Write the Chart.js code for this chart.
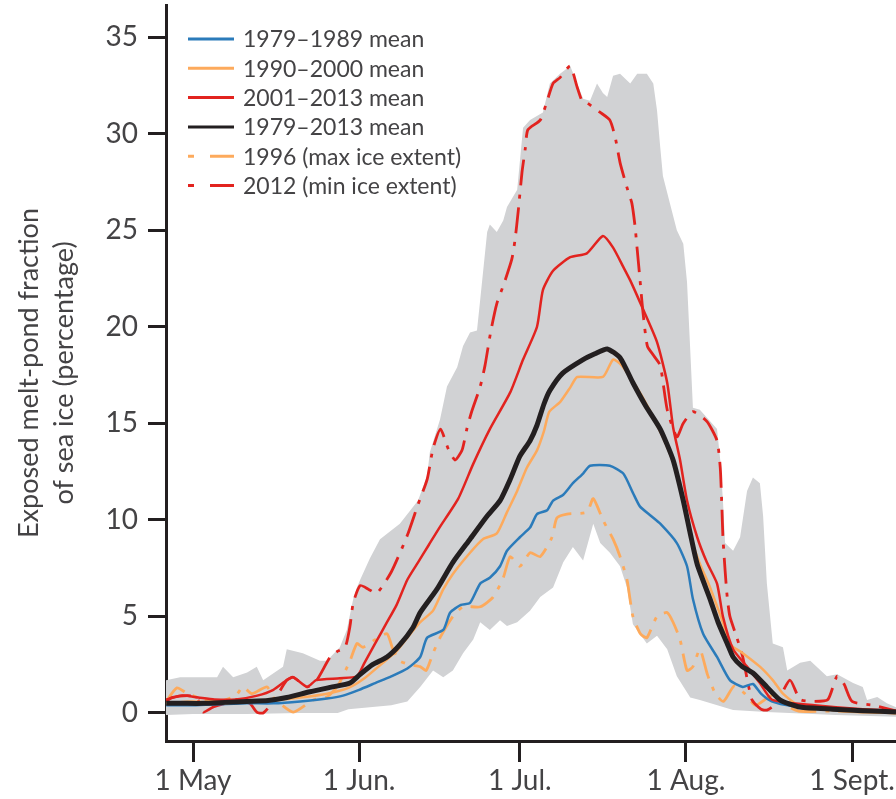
<!DOCTYPE html>
<html>
<head>
<meta charset="utf-8">
<title>Exposed melt-pond fraction of sea ice</title>
<script src="https://cdn.jsdelivr.net/npm/chart.js@4.4.1/dist/chart.umd.min.js"></script>
<style>
  html, body { margin: 0; padding: 0; background: #fff; }
  #wrap { width: 896px; height: 799px; }
</style>
</head>
<body>
<div id="wrap"><canvas id="pond-chart"></canvas></div>
<script>
// x values are days counted from 1 May
const monthTicks = [0, 31, 61, 92, 123];
const monthLabels = ['1 May', '1 Jun.', '1 Jul.', '1 Aug.', '1 Sept.'];
const pctTicks = [0, 5, 10, 15, 20, 25, 30, 35];

const legendLabels = ['1979–1989 mean', '1990–2000 mean', '2001–2013 mean',
                      '1979–2013 mean', '1996 (max ice extent)', '2012 (min ice extent)'];

// [day, percent]
const mean7989 = [[-5,0.4],[0,0.4],[5,0.45],[10,0.5],[15,0.5],[20,0.6],[25,0.75],[28,0.9],[31,1.2],[34,1.55],[37,1.9],[40,2.3],[42.4,2.9],[43.7,3.9],[46.7,4.3],[48,5.2],[50,5.6],[51.7,5.7],[53.6,6.7],[55.4,7.0],[57.3,7.6],[58.6,8.4],[61,9.1],[62.9,9.6],[64.2,10.3],[66.1,10.5],[67.2,11.0],[69.1,11.3],[70.9,11.9],[72.8,12.4],[74.1,12.8],[77.8,12.8],[80.3,12.4],[82.1,11.4],[83.4,10.7],[85.5,10.2],[87.2,9.8],[90.3,8.8],[92.2,7.6],[93.3,5.9],[95.2,4.1],[97.8,2.9],[100.2,1.7],[102.6,1.35],[104.5,1.5],[106,1.0],[108,0.6],[112,0.35],[118,0.2],[125,0.1],[131.2,0.05]];

const mean9000 = [[-5,0.5],[0,0.6],[5,0.5],[10,0.6],[15,0.65],[20,0.8],[25,1.0],[29,1.3],[32,1.8],[35,2.5],[38,3.2],[40,3.9],[42.4,4.7],[44.8,5.3],[46.7,6.4],[48.5,7.2],[51.7,8.3],[54.1,9.0],[56.7,9.3],[58.6,10.4],[60.5,11.5],[62.3,12.7],[64.2,13.6],[65.5,14.6],[66.5,15.6],[68.5,16.1],[70.5,16.9],[71.7,17.4],[76.5,17.4],[78.4,18.3],[80,18.0],[82.5,17.0],[85,15.8],[87.5,14.4],[89.6,13.0],[91.5,11.0],[93,9.0],[94.5,7.8],[96.5,6.5],[98.5,5.0],[100.5,3.5],[102.6,3.1],[105.8,2.4],[108.2,1.7],[110.1,1.0],[113,0.4],[118,0.2],[124,0.05],[131.2,0.0]];

const mean0113 = [[-5,0.7],[-2,0.9],[1,0.8],[4,0.7],[8,0.7],[12,0.9],[15,1.2],[17.5,1.7],[18.7,1.85],[21.3,1.35],[23,1.7],[27.4,1.8],[30.6,1.9],[32,2.6],[34,3.6],[36,4.6],[38,5.6],[40,6.9],[42,7.8],[44,8.7],[46,9.6],[49.5,11.1],[52.3,12.9],[55.4,14.7],[59.2,16.6],[61.6,18.3],[64.2,20.0],[65.3,21.9],[67.2,22.9],[70.4,23.6],[73.5,23.8],[76.5,24.7],[78.4,24.1],[80.3,23.1],[81.6,22.4],[84,20.9],[86.6,19.2],[88.5,17.1],[89.6,14.8],[90.9,13.1],[92.2,11.0],[94.1,9.1],[95.9,7.8],[97.8,6.7],[98.9,5.0],[100.8,3.3],[103.4,2.4],[105.8,1.55],[108,0.7],[112,0.5],[116,0.4],[120,0.3],[125,0.2],[131.2,0.1]];

const mean7913 = [[-5,0.5],[-2,0.5],[2,0.5],[6,0.55],[10,0.6],[14,0.65],[17.5,0.8],[21.8,1.1],[26,1.35],[29.3,1.55],[31.2,2.0],[33.5,2.5],[36.2,2.9],[38.5,3.5],[41,4.4],[42.4,5.2],[45.5,6.4],[48.5,7.8],[51.7,9.0],[54.9,10.2],[57.3,11.0],[59.2,12.1],[61,13.3],[62.9,14.1],[64.2,14.9],[65.5,16.0],[66.6,16.7],[69,17.6],[72.8,18.3],[75,18.6],[77.3,18.85],[79.7,18.4],[82.1,17.1],[84.5,15.9],[87.2,14.7],[89.6,13.1],[91.5,11.0],[92.8,9.3],[94.1,7.7],[96.5,5.9],[98,4.7],[99.7,3.6],[100.8,2.9],[102.5,2.4],[104.5,2.07],[107.1,1.35],[109.6,0.67],[113.3,0.31],[119.4,0.2],[125,0.12],[131.2,0.05]];

const year1996 = [[-5,0.6],[-3,1.3],[-1,1.0],[2,0.7],[5,0.6],[8,0.9],[9.3,1.35],[11,1.0],[13.8,1.35],[15,0.8],[18.7,0.05],[22.4,0.67],[25,0.83],[27,1.4],[29.3,2.7],[30.6,3.6],[31.7,3.4],[34,3.8],[36.2,4.1],[37.3,3.3],[38.6,2.7],[40.5,2.5],[42.4,2.4],[43.5,2.2],[44.8,3.1],[46.1,3.9],[48.5,5.0],[50.4,5.5],[53.6,5.5],[56,6.0],[57.9,7.0],[59.2,8.1],[61,7.6],[62.9,8.3],[64.8,8.1],[67,9.1],[67.9,10.1],[69.8,10.3],[73.5,10.4],[74.7,11.1],[76.5,10.0],[78.4,9.0],[79.7,8.1],[81,6.9],[82.1,5.0],[83.5,4.1],[84.7,3.9],[86.6,5.0],[88.5,5.2],[89.6,4.7],[90.9,3.8],[92.2,2.2],[93.3,2.4],[94.6,3.3],[96,2.0],[97.5,1.0],[99,0.6],[101,1.4],[103,1.0],[105,0.4],[108,0.9],[110,0.5],[113,0.1],[120,0.1],[131.2,0.0]];

const year2012 = [[-5,0.6],[-4,0.8],[-1,0.9],[0.7,0.8],[1.9,0.05],[3.7,0.3],[6,0.5],[8,0.7],[10.6,0.5],[11.9,0.05],[13.1,0.0],[15,0.6],[17.5,1.7],[18.7,1.85],[21.3,1.35],[23.1,1.7],[25.6,2.9],[27,3.2],[28.4,3.4],[29.3,4.5],[29.9,5.7],[31.2,6.6],[32.8,6.4],[34.3,6.2],[37,7.3],[40,9.2],[42,10.8],[43.7,12.1],[44.8,13.7],[46.2,14.7],[47.6,13.7],[48.9,13.1],[50.2,13.6],[51.1,14.7],[52,15.6],[53.6,16.9],[54.5,18.0],[55.6,19.8],[56.7,21.2],[58,22.2],[59.5,23.5],[60.1,24.5],[60.7,26.0],[61.4,28.0],[62,29.2],[62.5,30.2],[64.8,30.7],[66.1,31.7],[67.2,32.6],[68.5,32.9],[70.4,33.5],[71.7,32.4],[72.6,31.7],[73.5,31.6],[76,31.1],[77.8,30.7],[78.8,29.8],[79.7,28.5],[81,27.2],[81.9,26.4],[82.5,25.2],[82.9,24.0],[83.4,22.5],[84,20.7],[84.8,19.0],[86,18.5],[87.2,18.0],[88.5,15.7],[90.3,14.3],[91.5,15.0],[93.3,15.6],[95.9,15.1],[97.8,14.1],[98.4,12.7],[98.7,10.7],[98.9,9.1],[99.3,7.4],[99.7,6.0],[100.2,5.0],[101.5,3.9],[102.6,2.9],[104.3,0.7],[106,0.2],[107.1,0.15],[108.9,0.5],[111.4,1.7],[113.3,0.7],[116,0.6],[118.5,0.7],[120.2,1.9],[121.5,1.5],[123,0.6],[127,0.4],[131.2,0.1]];

// grey envelope
const rangeHigh = [[-5.04,1.7],[-2.4,1.85],[0,1.85],[4.5,1.85],[5.6,2.4],[7.5,1.85],[10.1,2.1],[11.9,2.4],[13.1,1.7],[16.8,2.4],[17.5,3.3],[20.5,3.1],[23.7,2.7],[25,2.7],[27.4,3.4],[28.7,4.3],[29.9,5.9],[30.6,6.5],[31.2,6.9],[33,8.0],[34.9,9.0],[38.6,9.8],[42,11.0],[43.7,12.3],[44.2,13.5],[46.1,15.2],[47.4,16.9],[49.3,17.9],[50.4,19.0],[51.7,19.7],[53,19.8],[53.6,21.4],[54.9,24.9],[55.4,25.3],[56.7,24.9],[57.9,25.5],[58.6,26.2],[60.5,27.1],[61.6,30.3],[62.9,30.7],[65.3,31.1],[66.6,32.6],[68.5,33.1],[70.4,33.5],[71.7,32.6],[72.8,31.8],[74.1,31.7],[75.4,32.6],[76.5,32.1],[77.3,31.9],[78.4,33.0],[79.7,33.1],[81.6,32.6],[82.9,33.1],[84.7,33.1],[85.9,32.6],[86.6,31.2],[87.2,29.3],[87.7,27.8],[89,26.4],[90.3,25.0],[91.5,24.3],[92.2,22.3],[92.8,18.8],[93.3,15.8],[94.6,15.7],[97.8,14.7],[98.4,13.1],[98.9,11.0],[99.3,8.8],[100.8,8.4],[102.1,9.1],[103.4,11.5],[104.5,12.2],[105.8,11.9],[106.4,10.2],[107.1,6.7],[108.2,3.6],[110.1,3.4],[110.9,2.2],[113.3,2.6],[115.2,2.7],[118.3,1.9],[120.2,2.0],[123.2,1.55],[125,1.35],[125.8,0.67],[127.7,0.83],[129.5,0.5],[131.2,0.3]];

const rangeLow = [[-5.04,-0.1],[0,-0.05],[10,-0.05],[20,0.0],[27,0.0],[29,0.2],[33,0.3],[37,0.4],[40,0.6],[42.4,1.35],[44.8,2.2],[46.7,1.85],[48.5,2.2],[50.4,3.1],[52.3,3.8],[53.6,4.7],[55.4,4.3],[57.3,4.8],[58.6,4.5],[60.5,4.7],[62.9,5.3],[64.8,6.0],[67.2,6.5],[69.1,7.8],[70.9,8.6],[72.8,7.9],[74.7,9.8],[76,8.8],[77.8,8.3],[79.7,7.6],[81,6.5],[82.1,4.6],[84.7,3.6],[86.6,4.0],[88.5,3.3],[90.3,1.9],[92.8,0.8],[94.6,0.67],[100.8,0.16],[107,0.05],[120,-0.1],[131.2,-0.2]];

const toXY = pairs => pairs.map(p => ({x: p[0], y: p[1]}));

const textColor = '#444345';
const inkColor = '#231f20';
const dashDot = [26, 9, 4, 9];

function line(label, pairs, color, width, rank, dash) {
    return {
        label: label,
        data: toXY(pairs),
        borderColor: color,
        backgroundColor: color,
        borderWidth: width,
        borderDash: dash || [],
        pointRadius: 0,
        tension: 0.2,
        fill: false,
        legendRank: rank
    };
}

// a small legend drawn inside the plot, one entry per row
const insideLegend = {
    id: 'insideLegend',
    afterDraw(chart) {
        const ctx = chart.ctx;
        const area = chart.chartArea;
        const items = chart.data.datasets
            .filter(d => d.legendRank !== undefined)
            .sort((a, b) => a.legendRank - b.legendRank);
        ctx.save();
        ctx.font = '23px Lato';
        ctx.textBaseline = 'middle';
        items.forEach((ds, i) => {
            const y = area.top + 34 + i * 29.3;
            const x0 = area.left + 22;
            const x1 = area.left + 68;
            ctx.strokeStyle = ds.borderColor;
            ctx.lineWidth = 3;
            ctx.beginPath();
            if (ds.borderDash.length) {
                ctx.moveTo(x0, y); ctx.lineTo(x0 + 6, y);
                ctx.moveTo(x0 + 22, y); ctx.lineTo(x1, y);
            } else {
                ctx.moveTo(x0, y); ctx.lineTo(x1, y);
            }
            ctx.stroke();
            ctx.fillStyle = textColor;
            ctx.fillText(ds.label, area.left + 77, y + 1);
        });
        ctx.restore();
    }
};

let ctx = document.getElementById('pond-chart').getContext('2d');

let pondChart = new Chart(ctx, {
    type: 'line',
    data: {
        datasets: [
            line(legendLabels[3], mean7913, inkColor, 5, 3),
            line(legendLabels[2], mean0113, '#e2231f', 2.5, 2),
            line(legendLabels[1], mean9000, '#fdaa5c', 2.5, 1),
            line(legendLabels[0], mean7989, '#2b7bba', 2.5, 0),
            line(legendLabels[5], year2012, '#e2231f', 2.8, 5, dashDot),
            line(legendLabels[4], year1996, '#fdaa5c', 2.8, 4, dashDot),
            {
                label: 'range high',
                data: toXY(rangeHigh),
                borderWidth: 0,
                pointRadius: 0,
                tension: 0,
                backgroundColor: '#d1d2d4',
                fill: '+1'
            },
            {
                label: 'range low',
                data: toXY(rangeLow),
                borderWidth: 0,
                pointRadius: 0,
                tension: 0,
                fill: false
            }
        ]
    },
    options: {
        responsive: true,
        maintainAspectRatio: false,
        animation: false,
        layout: { padding: { top: 5, left: 0, right: 0, bottom: 0 } },
        plugins: {
            legend: { display: false },
            tooltip: { enabled: false }
        },
        scales: {
            x: {
                type: 'linear',
                min: -5.04,
                max: 131.2,
                afterBuildTicks: scale => { scale.ticks = monthTicks.map(v => ({value: v})); },
                afterFit: scale => { scale.height = 58; scale.paddingLeft = 0; scale.paddingRight = 0; },
                ticks: {
                    autoSkip: false,
                    maxRotation: 0,
                    padding: 2,
                    color: textColor,
                    font: { family: 'Lato', size: 28 },
                    callback: (v, i) => monthLabels[i]
                },
                grid: {
                    drawOnChartArea: false,
                    drawTicks: true,
                    tickLength: 21,
                    tickWidth: 3,
                    tickColor: inkColor
                },
                border: { display: true, width: 3, color: inkColor }
            },
            y: {
                min: -1.45,
                max: 36.66,
                afterBuildTicks: scale => { scale.ticks = pctTicks.map(v => ({value: v})); },
                afterFit: scale => { scale.width = 166; scale.paddingTop = 0; scale.paddingBottom = 0; },
                ticks: {
                    padding: 10,
                    color: textColor,
                    font: { family: 'Lato', size: 28 }
                },
                grid: {
                    drawOnChartArea: false,
                    drawTicks: true,
                    tickLength: 18,
                    tickWidth: 3,
                    tickColor: inkColor
                },
                border: { display: true, width: 3, color: inkColor },
                title: {
                    display: true,
                    text: ['Exposed melt-pond fraction', 'of sea ice (percentage)'],
                    color: textColor,
                    font: { family: 'Lato', size: 27, lineHeight: 1.3 },
                    padding: { top: 12, bottom: 0 }
                }
            }
        }
    },
    plugins: [insideLegend]
});
</script>
</body>
</html>
